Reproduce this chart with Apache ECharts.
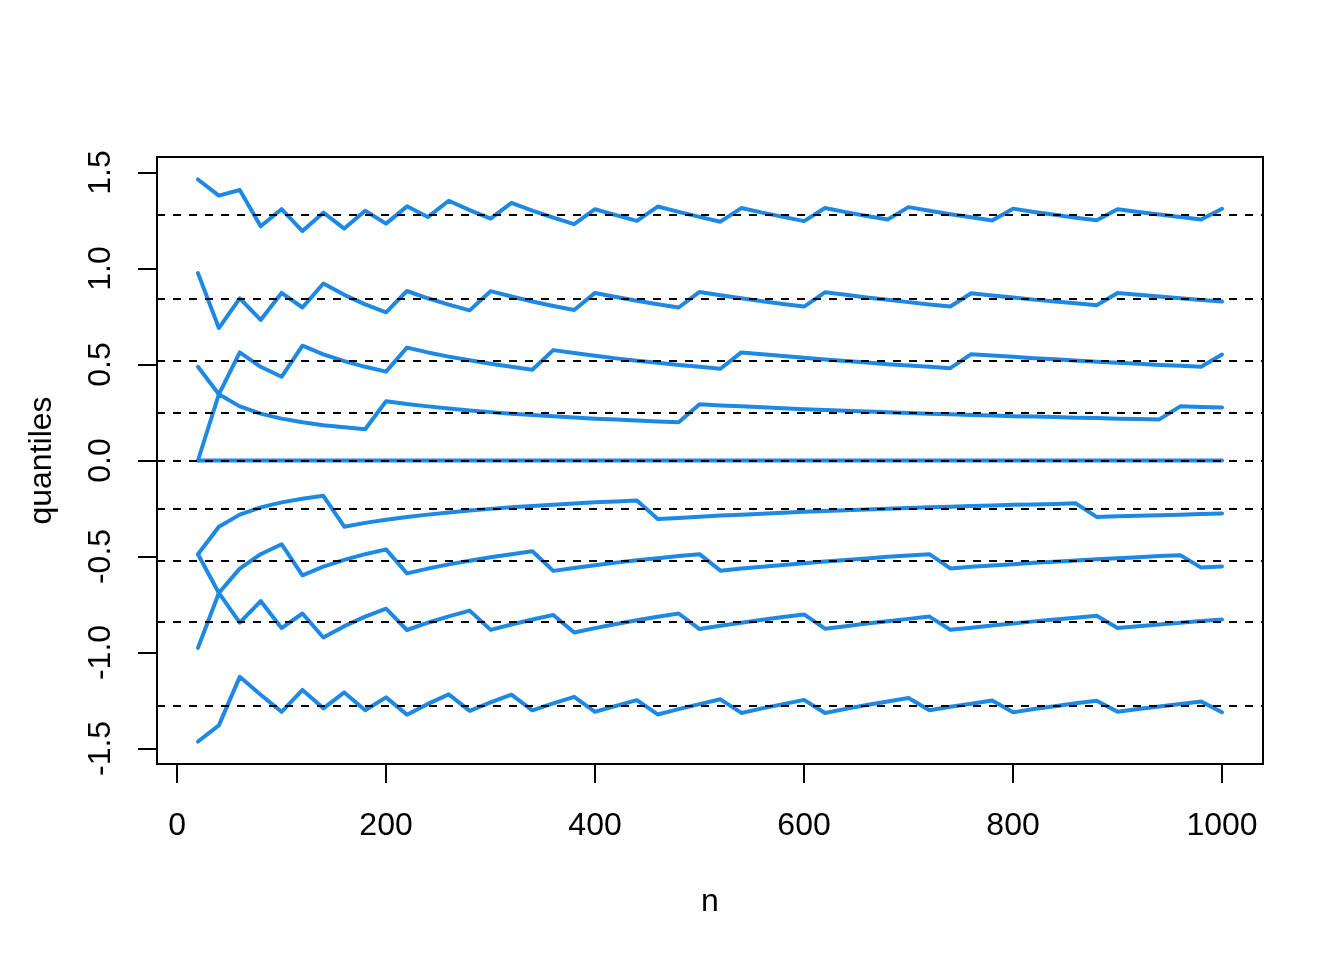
<!DOCTYPE html>
<html>
<head>
<meta charset="utf-8">
<script src="https://cdn.jsdelivr.net/npm/echarts@6/dist/echarts.min.js"></script>
<style>
html,body{margin:0;padding:0;background:#fff;}
#chart{width:1344px;height:960px;}
</style>
</head>
<body>
<div id="chart"></div>
<script>
// sample sizes (x)
const nValues = [20,40,60,80,100,120,140,160,180,200,220,240,260,280,300,320,340,360,380,400,
  420,440,460,480,500,520,540,560,580,600,620,640,660,680,700,720,740,760,780,800,
  820,840,860,880,900,920,940,960,980,1000];

// sample quantile curves
const q90 = [1.464,1.380,1.409,1.220,1.309,1.195,1.291,1.208,1.301,1.234,
  1.324,1.268,1.353,1.304,1.260,1.342,1.302,1.265,1.231,1.309,
  1.278,1.248,1.323,1.295,1.269,1.244,1.315,1.291,1.269,1.247,
  1.315,1.294,1.274,1.255,1.320,1.301,1.283,1.267,1.250,1.312,
  1.295,1.280,1.265,1.251,1.309,1.295,1.281,1.268,1.255,1.311];
const q80 = [0.976,0.690,0.845,0.732,0.873,0.797,0.922,0.863,0.813,0.772,
  0.883,0.845,0.812,0.782,0.882,0.854,0.828,0.805,0.784,0.873,
  0.852,0.832,0.814,0.797,0.878,0.861,0.845,0.830,0.815,0.802,
  0.876,0.863,0.849,0.837,0.825,0.813,0.802,0.871,0.859,0.849,
  0.838,0.828,0.819,0.809,0.873,0.863,0.854,0.845,0.836,0.828];
const q70 = [0.488,0.345,0.563,0.488,0.436,0.598,0.553,0.518,0.488,0.463,
  0.588,0.563,0.541,0.522,0.504,0.488,0.473,0.575,0.560,0.546,
  0.532,0.520,0.509,0.498,0.488,0.478,0.563,0.553,0.544,0.535,
  0.526,0.518,0.510,0.502,0.495,0.488,0.481,0.554,0.547,0.540,
  0.533,0.527,0.521,0.515,0.509,0.504,0.498,0.493,0.488,0.552];
const q60 = [0,0.345,0.282,0.244,0.218,0.199,0.184,0.173,0.163,0.309,
  0.294,0.282,0.271,0.261,0.252,0.244,0.237,0.230,0.224,0.218,
  0.213,0.208,0.203,0.199,0.293,0.287,0.282,0.277,0.272,0.267,
  0.263,0.259,0.255,0.251,0.247,0.244,0.241,0.237,0.234,0.231,
  0.229,0.226,0.223,0.221,0.218,0.216,0.214,0.282,0.279,0.276];
const q50 = [0,0,0,0,0,0,0,0,0,0,
  0,0,0,0,0,0,0,0,0,0,
  0,0,0,0,0,0,0,0,0,0,
  0,0,0,0,0,0,0,0,0,0,
  0,0,0,0,0,0,0,0,0,0];
const q40 = [-0.488,-0.345,-0.282,-0.244,-0.218,-0.199,-0.184,-0.345,-0.325,-0.309,
  -0.294,-0.282,-0.271,-0.261,-0.252,-0.244,-0.237,-0.230,-0.224,-0.218,
  -0.213,-0.208,-0.305,-0.299,-0.293,-0.287,-0.282,-0.277,-0.272,-0.267,
  -0.263,-0.259,-0.255,-0.251,-0.247,-0.244,-0.241,-0.237,-0.234,-0.231,
  -0.229,-0.226,-0.223,-0.294,-0.291,-0.288,-0.285,-0.282,-0.279,-0.276];
const q30 = [-0.488,-0.690,-0.563,-0.488,-0.436,-0.598,-0.553,-0.518,-0.488,-0.463,
  -0.588,-0.563,-0.541,-0.522,-0.504,-0.488,-0.473,-0.575,-0.560,-0.546,
  -0.532,-0.520,-0.509,-0.498,-0.488,-0.574,-0.563,-0.553,-0.544,-0.535,
  -0.526,-0.518,-0.510,-0.502,-0.495,-0.488,-0.562,-0.554,-0.547,-0.540,
  -0.533,-0.527,-0.521,-0.515,-0.509,-0.504,-0.498,-0.493,-0.558,-0.552];
const q20 = [-0.976,-0.690,-0.845,-0.732,-0.873,-0.797,-0.922,-0.863,-0.813,-0.772,
  -0.883,-0.845,-0.812,-0.782,-0.882,-0.854,-0.828,-0.805,-0.896,-0.873,
  -0.852,-0.832,-0.814,-0.797,-0.878,-0.861,-0.845,-0.830,-0.815,-0.802,
  -0.876,-0.863,-0.849,-0.837,-0.825,-0.813,-0.882,-0.871,-0.859,-0.849,
  -0.838,-0.828,-0.819,-0.809,-0.873,-0.863,-0.854,-0.845,-0.836,-0.828];
const q10 = [-1.464,-1.380,-1.127,-1.220,-1.309,-1.195,-1.291,-1.208,-1.301,-1.234,
  -1.324,-1.268,-1.218,-1.304,-1.260,-1.220,-1.302,-1.265,-1.231,-1.309,
  -1.278,-1.248,-1.323,-1.295,-1.269,-1.244,-1.315,-1.291,-1.269,-1.247,
  -1.315,-1.294,-1.274,-1.255,-1.237,-1.301,-1.283,-1.267,-1.250,-1.312,
  -1.295,-1.280,-1.265,-1.251,-1.309,-1.295,-1.281,-1.268,-1.255,-1.311];

// theoretical normal quantiles (dashed reference lines)
const refQuantiles = [1.2816,0.8416,0.5244,0.2533,0,-0.2533,-0.5244,-0.8416,-1.2816];

// tick labels
const xTicks = [0,200,400,600,800,1000];
const yTicks = [-1.5,-1.0,-0.5,0.0,0.5,1.0,1.5];

const curves = [q10,q20,q30,q40,q50,q60,q70,q80,q90];
const LINE_COLOR = '#1E88E5';
const FONT = '"Liberation Sans", Arial, Helvetica, sans-serif';

const series = curves.map((arr, k) => ({
  type: 'line',
  name: 'q' + (k + 1),
  data: nValues.map((n, i) => [n, arr[i]]),
  showSymbol: false,
  symbol: 'none',
  silent: true,
  z: 2,
  lineStyle: { color: LINE_COLOR, width: 4, cap: 'round', join: 'round' }
}));

series.push({
  type: 'line',
  name: 'ref',
  data: [],
  silent: true,
  z: 5,
  markLine: {
    silent: true,
    symbol: ['none', 'none'],
    label: { show: false },
    animation: false,
    lineStyle: { color: '#000', width: 2, type: [8, 8] },
    data: refQuantiles.map(v => ({ yAxis: v }))
  }
});

const chart = echarts.init(document.getElementById('chart'), null, { renderer: 'canvas' });
chart.setOption({
  backgroundColor: '#ffffff',
  animation: false,
  grid: {
    left: 157, top: 157, width: 1106, height: 607,
    show: true, borderColor: '#000', borderWidth: 2, backgroundColor: 'transparent',
    containLabel: false
  },
  xAxis: {
    type: 'value',
    min: -19.2, max: 1039.2,
    splitLine: { show: false },
    axisLine: { show: false, onZero: false },
    axisTick: { show: true, length: 19, customValues: xTicks, lineStyle: { color: '#000', width: 2 } },
    axisLabel: {
      customValues: xTicks, margin: 46, fontSize: 32, color: '#000', fontFamily: FONT,
      formatter: v => String(v)
    },
    name: 'n', nameLocation: 'middle', nameGap: 122,
    nameTextStyle: { fontSize: 32, color: '#000', fontFamily: FONT }
  },
  yAxis: {
    type: 'value',
    min: -1.581, max: 1.581,
    splitLine: { show: false },
    axisLine: { show: false, onZero: false },
    axisTick: { show: true, length: 19, customValues: yTicks, lineStyle: { color: '#000', width: 2 } },
    axisLabel: {
      customValues: yTicks, rotate: 90, margin: 40, fontSize: 32, color: '#000', fontFamily: FONT,
      formatter: v => Number(v).toFixed(1)
    },
    name: 'quantiles', nameLocation: 'middle', nameGap: 99, nameRotate: 90,
    nameTextStyle: { fontSize: 32, color: '#000', fontFamily: FONT }
  },
  series: series
});
</script>
</body>
</html>
